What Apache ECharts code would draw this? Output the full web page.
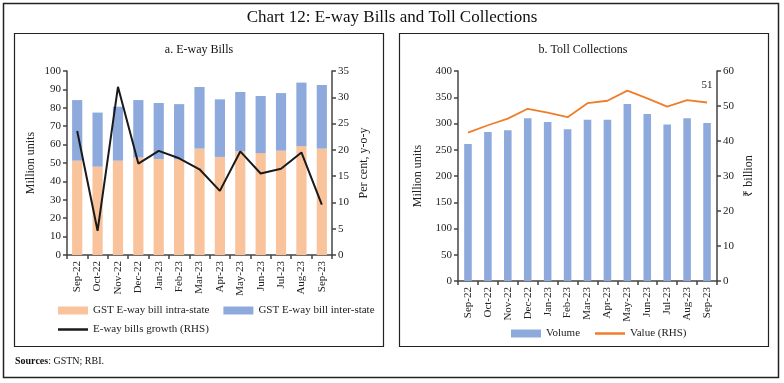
<!DOCTYPE html>
<html><head><meta charset="utf-8">
<script src="https://cdn.jsdelivr.net/npm/echarts@6/dist/echarts.min.js"></script>
<style>html,body{margin:0;padding:0;background:#fff}#c{width:784px;height:383px}</style>
</head><body><div id="c"></div>
<script>
const categories = ['Sep-22','Oct-22','Nov-22','Dec-22','Jan-23','Feb-23','Mar-23','Apr-23','May-23','Jun-23','Jul-23','Aug-23','Sep-23'];
const intraState = [51.3, 48.0, 51.3, 53.0, 52.2, 52.0, 57.8, 53.3, 56.3, 55.4, 56.7, 59.2, 57.8];
const interState = [32.9, 29.4, 29.3, 31.2, 30.4, 30.0, 33.5, 31.3, 32.3, 31.0, 31.3, 34.5, 34.6];
const ewayGrowth = [23.6, 4.6, 32.0, 17.4, 19.8, 18.4, 16.3, 12.2, 19.7, 15.5, 16.4, 19.5, 9.6];
const tollVolume = [261, 284, 287, 310, 303, 289, 307, 307, 337, 318, 298, 310, 301];
const tollValue = [42.4, 44.5, 46.4, 49.2, 48.1, 46.8, 50.8, 51.5, 54.4, 52.2, 49.8, 51.7, 51.0];
const leftTicksL = {min:0, max:100, interval:10};
const leftTicksR = {min:0, max:35, interval:5};
const rightTicksL = {min:0, max:400, interval:50};
const rightTicksR = {min:0, max:60, interval:10};

const FONT = 'Liberation Serif';
const TXT = '#222';
const AX = '#444';
const chart = echarts.init(document.getElementById('c'));

function xAx(gi){
  return {type:'category', gridIndex:gi, data:categories, boundaryGap:true,
    axisLine:{lineStyle:{color:AX,width:1.5}},
    axisTick:{show:true, length:4, alignWithLabel:false, lineStyle:{color:AX,width:1.5}},
    axisLabel:{rotate:90, fontFamily:FONT, fontSize:11, color:TXT, margin:6, interval:0}};
}
function yAx(gi, t, name, pos, gap){
  return {type:'value', gridIndex:gi, position:pos, min:t.min, max:t.max, interval:t.interval,
    name:name, nameLocation:'middle', nameGap:gap, nameRotate:90,
    nameTextStyle:{fontFamily:FONT, fontSize:12, color:TXT},
    splitLine:{show:false},
    axisLine:{show:true, lineStyle:{color:AX,width:1.5}},
    axisTick:{show:true, length:4, lineStyle:{color:AX,width:1.5}},
    axisLabel:{fontFamily:FONT, fontSize:11, color:TXT, margin:6}};
}

const lastIdx = tollValue.length - 1;
const valueData = tollValue.map((v,i)=> i===lastIdx ? {value:v, label:{show:true, position:'top', distance:12, fontFamily:FONT, fontSize:11, color:TXT, formatter:function(p){return Math.round(p.value);}}} : v);

const legText = {fontFamily:FONT, fontSize:11, color:TXT};
chart.setOption({
  animation:false,
  textStyle:{fontFamily:FONT},
  graphic:[
    {type:'rect', shape:{x:3.5,y:3.5,width:775,height:374}, style:{fill:'none',stroke:'#222',lineWidth:1.5}},
    {type:'rect', shape:{x:14.5,y:33.5,width:369,height:313}, style:{fill:'none',stroke:'#222',lineWidth:1.2}},
    {type:'rect', shape:{x:399.5,y:33.5,width:369,height:313}, style:{fill:'none',stroke:'#222',lineWidth:1.2}},
    {type:'text', left:'center', top:9, style:{text:'Chart 12: E-way Bills and Toll Collections', font:'17px "'+FONT+'"', fill:'#111'}},
    {type:'text', x:199, y:44, style:{text:'a. E-way Bills', font:'12px "'+FONT+'"', fill:'#111', align:'center'}},
    {type:'text', x:583, y:44, style:{text:'b. Toll Collections', font:'12px "'+FONT+'"', fill:'#111', align:'center'}},
    {type:'text', x:15, y:356, style:{rich:{b:{fontWeight:'bold',fontSize:10,fontFamily:FONT,fill:'#111'},n:{fontSize:10,fontFamily:FONT,fill:'#111'}}, text:'{b|Sources}{n|: GSTN; RBI.}'}}
  ],
  grid:[
    {left:67, right:784-332, top:71, bottom:383-255},
    {left:458, right:784-717, top:71, bottom:383-281}
  ],
  xAxis:[xAx(0), xAx(1)],
  yAxis:[
    yAx(0, leftTicksL, 'Million units', 'left', 30),
    yAx(0, leftTicksR, 'Per cent, y-o-y', 'right', 26),
    yAx(1, rightTicksL, 'Million units', 'left', 34),
    yAx(1, rightTicksR, '₹ billion', 'right', 26)
  ],
  legend:[
    {left:53, top:300, itemWidth:30, itemHeight:8, itemGap:14, icon:'rect', textStyle:legText,
      data:['GST E-way bill intra-state','GST E-way bill inter-state']},
    {left:53, top:319, itemWidth:30, itemHeight:2.5, icon:'rect', textStyle:legText,
      data:['E-way bills growth (RHS)']},
    {left:506, top:323, itemWidth:30, itemHeight:8, icon:'rect', textStyle:legText,
      data:['Volume']},
    {left:590, top:323, itemWidth:30, itemHeight:2.5, icon:'rect', textStyle:legText,
      data:['Value (RHS)']}
  ],
  series:[
    {name:'GST E-way bill intra-state', type:'bar', stack:'e', xAxisIndex:0, yAxisIndex:0, data:intraState, barWidth:'50%', itemStyle:{color:'#F9C39C'}},
    {name:'GST E-way bill inter-state', type:'bar', stack:'e', xAxisIndex:0, yAxisIndex:0, data:interState, barWidth:'50%', itemStyle:{color:'#8EAADC'}},
    {name:'E-way bills growth (RHS)', type:'line', xAxisIndex:0, yAxisIndex:1, data:ewayGrowth, symbol:'none', lineStyle:{color:'#1a1a1a', width:2}, itemStyle:{color:'#1a1a1a'}, z:5},
    {name:'Volume', type:'bar', xAxisIndex:1, yAxisIndex:2, data:tollVolume, barWidth:'38%', itemStyle:{color:'#8EAADC'}},
    {name:'Value (RHS)', type:'line', xAxisIndex:1, yAxisIndex:3, data:valueData, symbol:'circle', symbolSize:0, showSymbol:true, lineStyle:{color:'#F07D2C', width:1.8}, itemStyle:{color:'#F07D2C'}, z:5}
  ]
});
</script></body></html>
